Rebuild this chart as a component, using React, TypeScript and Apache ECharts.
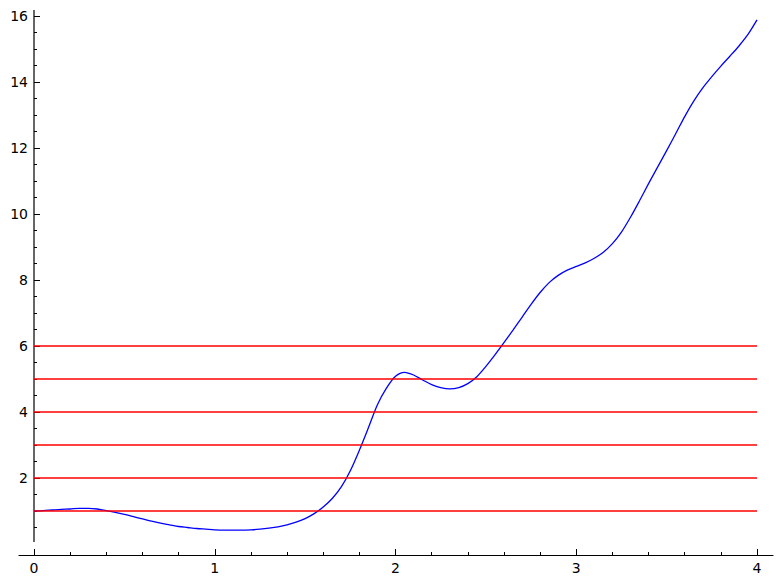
import React, { useEffect, useRef } from "react";
import * as echarts from "echarts";

// Curve samples (every 0.05 on x)
const X_VALUES = [
  0.0, 0.05, 0.1, 0.15, 0.2, 0.25, 0.3, 0.35, 0.4, 0.45, 0.5, 0.55, 0.6, 0.65, 0.7, 0.75,
  0.8, 0.85, 0.9, 0.95, 1.0, 1.05, 1.1, 1.15, 1.2, 1.25, 1.3, 1.35, 1.4, 1.45,
  1.5, 1.55, 1.6, 1.65, 1.7, 1.75, 1.8, 1.85, 1.9, 1.95, 2.0, 2.05, 2.1, 2.15, 2.2,
  2.25, 2.3, 2.35, 2.4, 2.45, 2.5, 2.55, 2.6, 2.65, 2.7, 2.75, 2.8, 2.85, 2.9, 2.95,
  3.0, 3.05, 3.1, 3.15, 3.2, 3.25, 3.3, 3.35, 3.4, 3.45, 3.5, 3.55, 3.6, 3.65, 3.7, 3.75, 3.8,
  3.85, 3.9, 3.95, 4.0,
];
const Y_VALUES = [
  1.0, 1.01, 1.03, 1.05, 1.06, 1.08, 1.08, 1.06, 1.01, 0.96, 0.9, 0.83, 0.76, 0.69, 0.63, 0.58,
  0.53, 0.5, 0.47, 0.45, 0.43, 0.42, 0.42, 0.42, 0.43, 0.45, 0.48, 0.52, 0.58, 0.66,
  0.77, 0.92, 1.12, 1.38, 1.73, 2.22, 2.84, 3.52, 4.22, 4.72, 5.08, 5.2, 5.12, 4.97, 4.83,
  4.74, 4.7, 4.74, 4.86, 5.07, 5.38, 5.73, 6.1, 6.48, 6.87, 7.26, 7.62, 7.92, 8.14, 8.3,
  8.41, 8.52, 8.66, 8.84, 9.1, 9.45, 9.9, 10.4, 10.92, 11.42, 11.92, 12.43, 12.95, 13.42, 13.82, 14.16, 14.48,
  14.78, 15.09, 15.44, 15.88,
];

// Horizontal red lines
const LEVELS = [1, 2, 3, 4, 5, 6];
const LEVEL_X = [0, 4];

// Axes ticks / labels
const X_MAJOR = [0, 1, 2, 3, 4];
const X_MINOR = [0.2, 0.4, 0.6, 0.8, 1.2, 1.4, 1.6, 1.8, 2.2, 2.4, 2.6, 2.8, 3.2, 3.4, 3.6, 3.8];
const Y_MAJOR = [2, 4, 6, 8, 10, 12, 14, 16];
const Y_MINOR = [
  0.5, 1, 1.5, 2.5, 3, 3.5, 4.5, 5, 5.5, 6.5, 7, 7.5, 8.5, 9, 9.5, 10.5, 11, 11.5,
  12.5, 13, 13.5, 14.5, 15, 15.5,
];
const X_RANGE = [-0.083, 4.0885];
const Y_RANGE = [-1 / 3, 16.18];
const Y_AXIS_SPAN = [0.06, 16.18];

const FONT = "DejaVu Sans";

export default function App() {
  const ref = useRef<HTMLDivElement>(null);
  useEffect(() => {
    if (!ref.current) return;
    const chart = echarts.init(ref.current, null, { renderer: "svg" });
    const baseX = {
      type: "value",
      min: X_RANGE[0],
      max: X_RANGE[1],
      position: "bottom",
      splitLine: { show: false },
    };
    const baseY = {
      type: "value",
      min: Y_RANGE[0],
      max: Y_RANGE[1],
      position: "left",
      offset: -15,
      splitLine: { show: false },
      axisLine: { show: false, onZero: false },
    };
    const labelStyle = { color: "#000", fontSize: 14, fontFamily: FONT };
    const option: any = {
      animation: false,
      backgroundColor: "#fff",
      grid: { left: 19, right: 8, top: 10, bottom: 30, containLabel: false, outerBoundsMode: "none" },
      xAxis: [
        {
          ...baseX,
          axisLine: { show: true, onZero: false, lineStyle: { color: "#000", width: 1.2 } },
          axisTick: { show: true, inside: true, length: 6, customValues: X_MAJOR, lineStyle: { color: "#000", width: 1 } },
          axisLabel: { ...labelStyle, customValues: X_MAJOR, margin: 6, formatter: (v: number) => String(v) },
        },
        {
          ...baseX,
          axisLine: { show: false, onZero: false },
          axisTick: { show: true, inside: true, length: 3, customValues: X_MINOR, lineStyle: { color: "#000", width: 1 } },
          axisLabel: { show: false },
        },
      ],
      yAxis: [
        {
          ...baseY,
          axisTick: { show: true, inside: true, length: 6, customValues: Y_MAJOR, lineStyle: { color: "#000", width: 1 } },
          axisLabel: { ...labelStyle, customValues: Y_MAJOR, margin: 6, formatter: (v: number) => String(v) },
        },
        {
          ...baseY,
          axisTick: { show: true, inside: true, length: 3, customValues: Y_MINOR, lineStyle: { color: "#000", width: 1 } },
          axisLabel: { show: false },
        },
      ],
      series: [
        {
          type: "line",
          xAxisIndex: 0,
          yAxisIndex: 0,
          data: [[0, Y_AXIS_SPAN[0]], [0, Y_AXIS_SPAN[1]]],
          showSymbol: false,
          silent: true,
          lineStyle: { color: "#000", width: 1.2 },
        },
        {
          type: "line",
          xAxisIndex: 0,
          yAxisIndex: 0,
          data: X_VALUES.map((x, i) => [x, Y_VALUES[i]]),
          showSymbol: false,
          smooth: 0.3,
          lineStyle: { color: "#0000ff", width: 1.3 },
        },
        ...LEVELS.map((lv) => ({
          type: "line",
          xAxisIndex: 0,
          yAxisIndex: 0,
          data: LEVEL_X.map((x) => [x, lv]),
          showSymbol: false,
          lineStyle: { color: "#ff0000", width: 1.5 },
        })),
      ],
    };
    chart.setOption(option);
    return () => chart.dispose();
  }, []);
  return (
    <div
      ref={ref}
      style={{ position: "absolute", left: 0, top: 0, width: 781, height: 585 }}
    />
  );
}
